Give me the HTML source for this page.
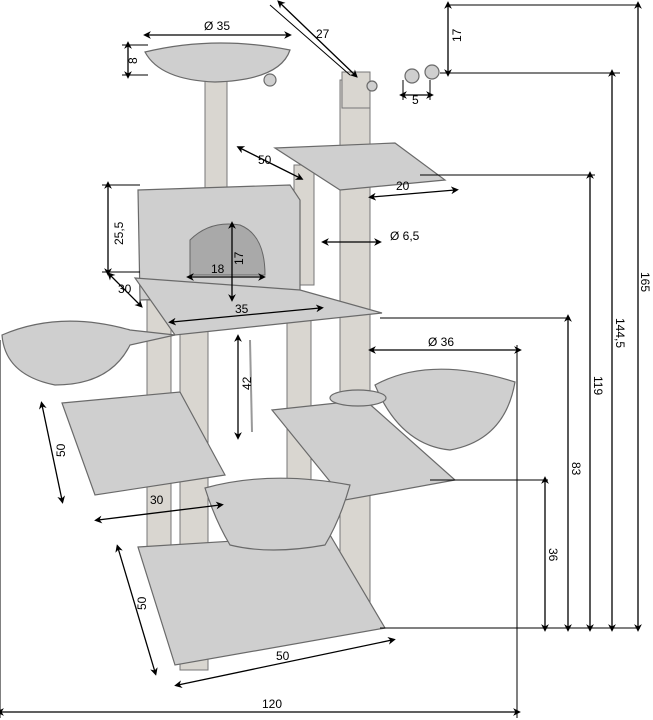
<!DOCTYPE html>
<html><head><meta charset="utf-8"><style>
html,body{margin:0;padding:0;background:#fff}
svg{display:block}
text{font-family:"Liberation Sans",sans-serif;font-size:12px;fill:#000}
.p{fill:#cfcfcf;stroke:#6a6a6a;stroke-width:1.2}
.s{fill:#d9d6d0;stroke:#777;stroke-width:1}
.d{stroke:#000;stroke-width:1.3;fill:none;marker-start:url(#a);marker-end:url(#a)}
.l{stroke:#000;stroke-width:1;fill:none}
</style></head><body>
<svg width="653" height="720" viewBox="0 0 653 720">
<defs><marker id="a" viewBox="0 0 10 10" refX="5" refY="5" markerWidth="6" markerHeight="6" orient="auto-start-reverse"><path d="M0,5 L10,0 L7,5 L10,10 z" fill="#000" transform="rotate(180 5 5)"/></marker></defs>

<rect class="s" x="147" y="300" width="24" height="260"/>
<rect class="s" x="180" y="330" width="28" height="340"/>
<rect class="s" x="287" y="320" width="24" height="200"/>
<rect class="s" x="294" y="165" width="20" height="120"/>
<rect class="s" x="340" y="80" width="30" height="550"/>
<rect class="s" x="205" y="80" width="22" height="115"/>
<polygon class="p" points="138,547 330,535 385,628 175,665"/>
<polygon class="p" points="275,148 395,143 445,180 340,190"/>
<polygon class="p" points="138,190 290,185 300,200 300,295 140,300"/>
<path d="M190,275 L190,240 Q210,220 240,225 Q265,235 265,275 Z" fill="#a9a9a9" stroke="#666"/>
<polygon class="p" points="135,278 300,290 382,313 175,335"/>
<polygon class="p" points="62,403 180,392 225,475 95,495"/>
<polygon class="p" points="272,410 365,400 455,480 345,500"/>
<path class="p" d="M205,488 Q270,470 350,485 Q340,520 325,545 Q270,555 230,545 Q215,520 205,488Z"/>
<path class="p" d="M2,335 Q60,310 130,330 L175,335 L130,345 Q110,385 55,385 Q5,375 2,335Z"/>
<path class="p" d="M375,385 Q430,355 515,382 Q505,440 450,450 Q400,445 375,385Z"/>
<ellipse class="p" cx="358" cy="398" rx="28" ry="8"/>
<path class="p" d="M145,52 Q215,35 290,50 Q280,80 215,82 Q160,80 145,52Z"/>
<rect class="s" x="342" y="72" width="28" height="36"/>
<line class="l" x1="270" y1="5" x2="350" y2="75" stroke="#bbb"/>
<circle class="p" cx="270" cy="80" r="6"/>
<circle class="p" cx="412" cy="76" r="7"/><circle class="p" cx="432" cy="72" r="7"/>
<circle class="p" cx="372" cy="86" r="5"/>
<line x1="250" y1="340" x2="252" y2="432" stroke="#999" stroke-width="2"/>

<line class="l" x1="448" y1="5" x2="640" y2="5"/>
<line class="l" x1="440" y1="73" x2="620" y2="73"/>
<line class="l" x1="420" y1="175" x2="595" y2="175"/>
<line class="l" x1="380" y1="318" x2="570" y2="318"/>
<line class="l" x1="430" y1="480" x2="548" y2="480"/>
<line class="l" x1="380" y1="628" x2="640" y2="628"/>
<line class="l" x1="517" y1="345" x2="517" y2="718"/>
<line class="l" x1="0" y1="340" x2="0" y2="718"/>
<line class="l" x1="122" y1="45" x2="148" y2="45"/><line class="l" x1="122" y1="75" x2="148" y2="75"/>
<line class="l" x1="102" y1="185" x2="140" y2="185"/><line class="l" x1="102" y1="272" x2="140" y2="272"/>
<line class="l" x1="403" y1="80" x2="403" y2="100"/><line class="l" x1="430" y1="80" x2="430" y2="100"/>

<line class="d" x1="147" y1="35" x2="288" y2="35"/><text x="204" y="30">Ø 35</text>
<line class="d" x1="128" y1="45" x2="128" y2="75"/><text transform="translate(137,64) rotate(-90)">8</text>
<line class="d" x1="280" y1="3" x2="355" y2="75"/><text x="316" y="38">27</text>
<line class="d" x1="448" y1="5" x2="448" y2="73"/><text transform="translate(461,42) rotate(-90)">17</text>
<line class="d" x1="403" y1="95" x2="430" y2="95"/><text x="412" y="104">5</text>
<line class="d" x1="638" y1="5" x2="638" y2="628"/><text transform="translate(641,272) rotate(90)">165</text>
<line class="d" x1="612" y1="73" x2="612" y2="628"/><text transform="translate(616,318) rotate(90)">144,5</text>
<line class="d" x1="590" y1="175" x2="590" y2="628"/><text transform="translate(594,376) rotate(90)">119</text>
<line class="d" x1="568" y1="318" x2="568" y2="628"/><text transform="translate(572,462) rotate(90)">83</text>
<line class="d" x1="545" y1="480" x2="545" y2="628"/><text transform="translate(549,548) rotate(90)">36</text>
<line class="d" x1="0" y1="712" x2="517" y2="712"/><text x="262" y="708">120</text>
<line class="d" x1="372" y1="350" x2="518" y2="350"/><text x="428" y="346">Ø 36</text>
<line class="d" x1="325" y1="242" x2="378" y2="242"/><text x="390" y="240">Ø 6,5</text>
<line class="d" x1="240" y1="148" x2="300" y2="178"/><text x="258" y="164">50</text>
<line class="d" x1="372" y1="197" x2="455" y2="190"/><text x="396" y="190">20</text>
<line class="d" x1="108" y1="185" x2="108" y2="272"/><text transform="translate(123,245) rotate(-90)">25,5</text>
<line class="d" x1="232" y1="225" x2="232" y2="298"/><text transform="translate(243,265) rotate(-90)">17</text>
<line class="d" x1="190" y1="277" x2="262" y2="277"/><text x="211" y="273">18</text>
<line class="d" x1="110" y1="275" x2="140" y2="305"/><text x="118" y="293">30</text>
<line class="d" x1="172" y1="322" x2="320" y2="308"/><text x="235" y="313">35</text>
<line class="d" x1="238" y1="338" x2="238" y2="436"/><text transform="translate(251,390) rotate(-90)">42</text>
<line class="d" x1="42" y1="405" x2="62" y2="500"/><text transform="translate(65,457) rotate(-90)">50</text>
<line class="d" x1="98" y1="520" x2="220" y2="505"/><text x="150" y="504">30</text>
<line class="d" x1="118" y1="548" x2="155" y2="672"/><text transform="translate(146,610) rotate(-90)">50</text>
<line class="d" x1="178" y1="685" x2="392" y2="640"/><text x="276" y="660">50</text>
</svg>
</body></html>
